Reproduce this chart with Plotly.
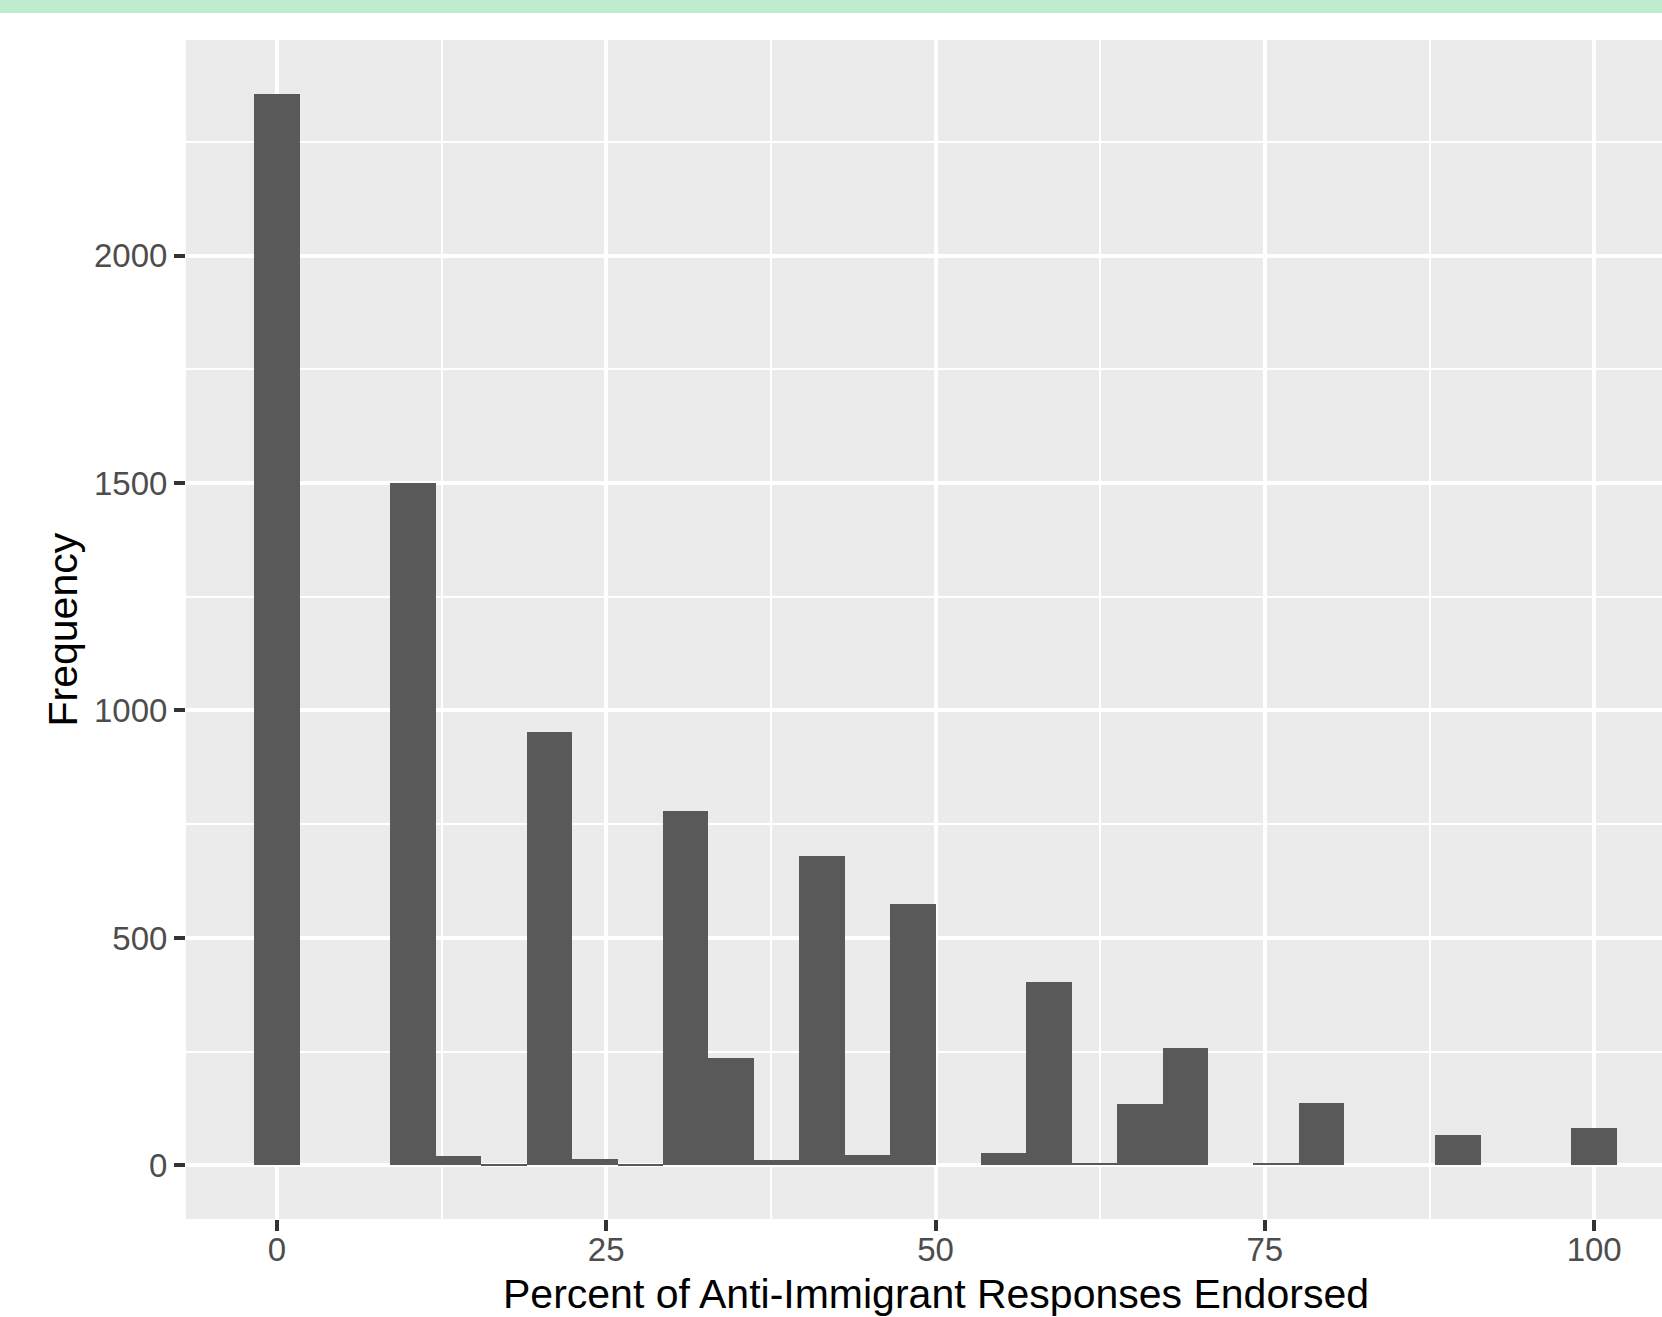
import plotly.graph_objects as go

# Histogram of anti-immigrant responses: 30 bins spanning 0-100
bin_width = 100 / 29
bin_centers = [i * bin_width for i in range(30)]
counts = [2356, 0, 0, 1500, 20, 2, 953, 14, 2, 780,
          236, 12, 680, 23, 575, 0, 27, 403, 5, 135,
          257, 0, 5, 138, 0, 0, 67, 0, 0, 82]

x_ticks = [0, 25, 50, 75, 100]
x_minor = [12.5, 37.5, 62.5, 87.5]
y_ticks = [0, 500, 1000, 1500, 2000]
y_minor = [250, 750, 1250, 1750, 2250]

x_title = "Percent of Anti-Immigrant Responses Endorsed"
y_title = "Frequency"

W, H = 1662, 1317
ML, MR, MT, MB = 186, 0, 40, 98
plot_w = W - ML - MR
plot_h = H - MT - MB

FONT = "Liberation Sans, Arial, Helvetica, sans-serif"
GRID_MAJOR = 3.6
GRID_MINOR = 1.8

fig = go.Figure(
    go.Bar(
        x=bin_centers,
        y=counts,
        width=bin_width,
        marker=dict(color="#595959", line=dict(width=0)),
        hoverinfo="x+y",
    )
)

fig.update_layout(
    width=W,
    height=H,
    margin=dict(l=ML, r=MR, t=MT, b=MB, pad=0),
    paper_bgcolor="white",
    plot_bgcolor="#EBEBEB",
    bargap=0,
    showlegend=False,
    font=dict(family=FONT),
    xaxis=dict(
        range=[-6.897, 105.15],
        tickmode="array",
        tickvals=x_ticks,
        ticktext=[str(v) for v in x_ticks],
        ticks="outside",
        ticklen=11,
        tickwidth=GRID_MAJOR,
        tickcolor="#333333",
        tickfont=dict(size=33, color="#4D4D4D", family=FONT),
        ticklabelstandoff=-10,
        showgrid=True,
        gridcolor="white",
        gridwidth=GRID_MAJOR,
        minor=dict(tickmode="array", tickvals=x_minor, showgrid=True,
                   gridcolor="white", gridwidth=GRID_MINOR, ticks=""),
        zeroline=False,
        showline=False,
        fixedrange=True,
    ),
    yaxis=dict(
        range=[-117.8, 2473.8],
        tickmode="array",
        tickvals=y_ticks,
        ticktext=[str(v) for v in y_ticks],
        ticks="outside",
        ticklen=11,
        tickwidth=GRID_MAJOR,
        tickcolor="#333333",
        tickfont=dict(size=33, color="#4D4D4D", family=FONT),
        showgrid=True,
        gridcolor="white",
        gridwidth=GRID_MAJOR,
        minor=dict(tickmode="array", tickvals=y_minor, showgrid=True,
                   gridcolor="white", gridwidth=GRID_MINOR, ticks=""),
        zeroline=False,
        showline=False,
        fixedrange=True,
    ),
)

# Axis titles placed as annotations so the x title sits at the panel's data centre
fig.add_annotation(
    text=x_title, xref="x", yref="paper", x=50,
    y=1 - (1294 - MT) / plot_h, xanchor="center", yanchor="middle",
    showarrow=False, font=dict(size=41, color="black", family=FONT),
)
fig.add_annotation(
    text=y_title, xref="paper", yref="paper",
    x=(62 - ML) / plot_w, y=0.5, xanchor="center", yanchor="middle",
    textangle=-90, showarrow=False,
    font=dict(size=41, color="black", family=FONT),
)

# Thin green band across the top of the page
fig.add_shape(
    type="rect", xref="paper", yref="paper",
    x0=-ML / plot_w, x1=1.0, y0=1 + (MT - 13) / plot_h, y1=1 + MT / plot_h,
    fillcolor="#BFEBCF", line=dict(width=0), layer="above",
)

fig.write_html("out.html", config={"displayModeBar": False})
